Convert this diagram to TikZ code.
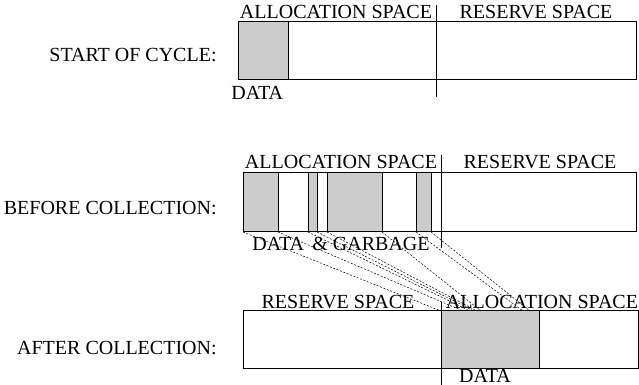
\documentclass[tikz,border=0pt]{standalone}
\usepackage{fontspec}
\setmainfont{Liberation Serif}
\usetikzlibrary{positioning}

\begin{document}
\begin{tikzpicture}[
    x=0.5pt, y=-0.5pt,
    font=\fontsize{10}{11}\selectfont,
    space/.style={draw, line width=0.5pt},
    block/.style={draw, fill=gray!40, line width=0.5pt},
    divider/.style={draw, line width=0.5pt},
    move/.style={draw, dash pattern=on 1pt off 0.8pt, line width=0.25pt},
    rowlbl/.style={anchor=east, inner sep=0pt},
    lbl/.style={inner sep=0pt}
]
\useasboundingbox (0,0) rectangle (639,385);

% start of cycle
\node[rowlbl] (start) at (217,55) {START OF CYCLE:};
\filldraw[block] (238,22) rectangle (288,80);
\draw[space] (238,22) rectangle (636,80);
\coordinate (divAt) at (436,5);
\coordinate (divAb) at (436,97);
\draw[divider] (divAt) -- (divAb);
\node[lbl] (allocA) at (336,12) {ALLOCATION SPACE};
\node[lbl] (resA) at (536,12) {RESERVE SPACE};
\node[lbl, anchor=west] (dataA) at (231,93) {DATA};

% before collection
\node[rowlbl] (before) at (217,208) {BEFORE COLLECTION:};
\draw[space] (243,173) rectangle (636,232);
\foreach \l/\r [count=\i] in {243/278, 308/317, 327/382, 416/431} {
    \filldraw[block] (\l,173) rectangle (\r,232);
    \coordinate (bl\i) at (\l,232);
    \coordinate (br\i) at (\r,232);
}
\coordinate (divBt) at (441,155);
\coordinate (divBb) at (441,248);
\draw[divider] (divBt) -- (divBb);
\node[lbl] (allocB) at (341,162) {ALLOCATION SPACE};
\node[lbl] (resB) at (540,162) {RESERVE SPACE};
\node[lbl] (dataB) at (341,244) {DATA \,\& GARBAGE};

% after collection
\node[rowlbl] (after) at (217,348) {AFTER COLLECTION:};
\draw[space] (243,311) rectangle (638,369);
\filldraw[block] (441,311) rectangle (539,369);
\coordinate (divCt) at (441,302);
\coordinate (divCb) at (441,385);
\draw[divider] (divCt) -- (divCb);
\node[lbl] (resC) at (338,302) {RESERVE SPACE};
\node[lbl] (allocC) at (542,302) {ALLOCATION SPACE};
\node[lbl] (dataC) at (485,376) {DATA};

% where the live blocks go
\foreach \i/\tl/\tr in {1/441/463, 2/470/474, 3/477/481, 4/523/530} {
    \coordinate (tl\i) at (\tl,311);
    \coordinate (tr\i) at (\tr,311);
    \draw[move] (bl\i) -- (tl\i);
    \draw[move] (br\i) -- (tr\i);
}
\end{tikzpicture}
\end{document}
